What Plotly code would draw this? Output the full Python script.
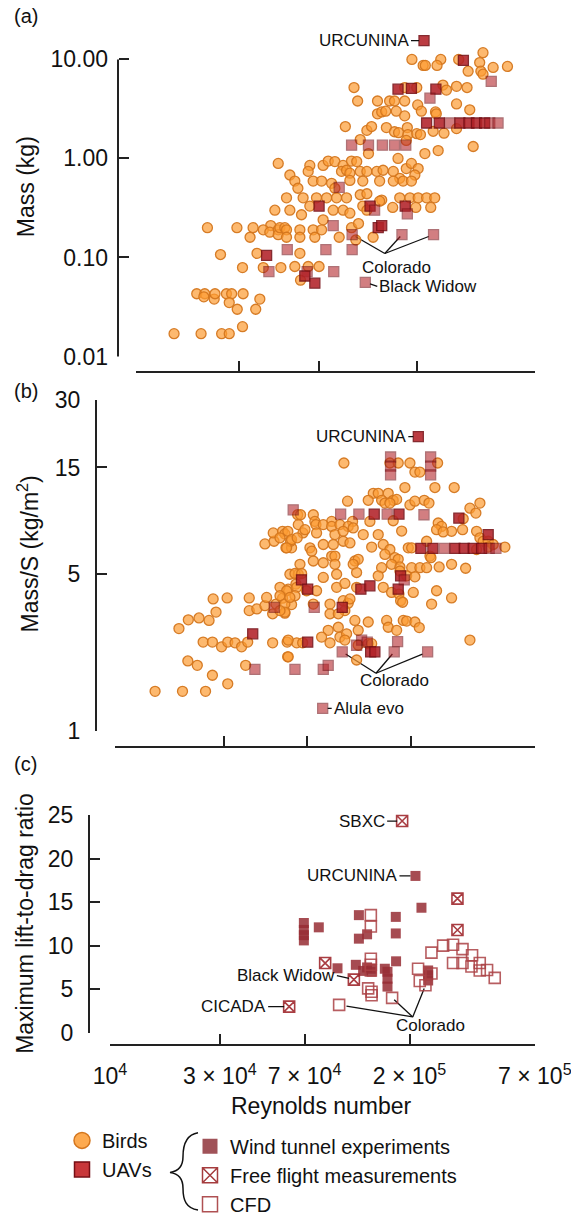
import math
import plotly.graph_objects as go

W, H = 571, 1224
FONT = "Liberation Sans, Arial, sans-serif"

# ---------------- data ----------------
# Panel (a): body mass vs Reynolds number (Re in thousands)
birds_a_re_k = [
    45.5, 43.9, 21.4, 29.3, 34.8, 42.0, 38.8, 41.6, 45.5, 33.7, 45.5, 24.6, 36.3, 31.1, 38.8, 46.8,
    19.1, 20.8, 20.6, 23.0, 23.2, 26.2, 27.7, 27.0, 31.3, 29.4, 37.4, 35.8, 31.1, 15.0, 20.0, 24.9,
    27.0, 46.3, 48.8,
    403, 189, 257, 311, 389, 213, 218, 247, 523, 449, 344, 394, 403,
    102, 175, 199, 263, 304, 340, 273,
    106, 131, 149, 157, 175, 201, 304,
    131, 137, 143, 160, 175, 209, 243, 245, 350,
    93, 117, 123, 144, 157, 164, 180, 181, 199, 207, 237, 266, 304,
    109, 178, 119, 217, 250, 363,
    51.5, 63.7, 62.6, 73.4, 77.5, 83.2, 90.8, 99.3, 105, 89.3, 94.2, 97.6, 109, 117, 130, 139, 155,
    163, 178, 188, 202, 195, 166,
    54.3, 56.1, 66.0, 72.2, 80.3, 83.2, 97.6, 112, 134, 155, 172, 188,
    49.7, 59.3, 68.4, 76.2, 84.7, 94.2, 109, 117, 137, 166, 185, 202, 221, 241,
    51.5, 58.3, 63.7, 73.4, 81.7, 90.8, 97.6, 112, 117, 134, 154, 197, 231,
    49.7, 57.3, 66.0, 72.2, 49.7, 57.3, 67.2, 87.1, 99.3, 107, 125, 104,
    54.3, 57.3, 62.6, 70.3, 57.7,
]
birds_a_mass = [
    0.89, 0.30, 0.20, 0.20, 0.20, 0.21, 0.19, 0.18, 0.19, 0.16, 0.17, 0.107, 0.11, 0.079, 0.079, 0.079,
    0.043, 0.043, 0.040, 0.038, 0.043, 0.043, 0.043, 0.035, 0.043, 0.030, 0.038, 0.030, 0.020, 0.017, 0.017, 0.017,
    0.017, 0.20, 0.20,
    11.7, 10, 10, 10, 9.3, 8.7, 8.7, 8.7, 8.5, 8.3, 7.6, 7.6, 7.1,
    5.2, 5.2, 5.2, 5.5, 5.35, 5.2, 4.9,
    3.8, 3.8, 3.8, 3.8, 3.8, 3.47, 3.55,
    2.82, 2.95, 3.0, 3.0, 2.69, 3.0, 2.95, 2.82, 3.1,
    2.1, 1.92, 2.1, 2.05, 1.86, 1.82, 2.05, 1.74, 1.78, 1.74, 1.88, 1.8, 2.0,
    1.55, 1.52, 1.12, 1.12, 1.2, 1.32,
    0.68, 0.85, 0.74, 0.85, 0.94, 0.93, 0.85, 0.94, 0.93, 0.74, 0.76, 0.71, 0.74, 0.74, 0.74, 0.76, 0.74,
    1.0, 0.79, 0.89, 0.79, 0.68, 0.63,
    0.59, 0.50, 0.59, 0.59, 0.56, 0.50, 0.60, 0.59, 0.59, 0.59, 0.59, 0.59,
    0.40, 0.40, 0.40, 0.40, 0.40, 0.40, 0.43, 0.44, 0.38, 0.40, 0.40, 0.40, 0.40, 0.40,
    0.30, 0.27, 0.33, 0.24, 0.30, 0.30, 0.28, 0.33, 0.30, 0.37, 0.32, 0.32, 0.32,
    0.19, 0.19, 0.19, 0.19, 0.16, 0.16, 0.16, 0.16, 0.20, 0.22, 0.16, 0.15,
    0.081, 0.11, 0.081, 0.081, 0.059,
]
uav_a_re_k = [
    215, 327, 440, 163, 188, 244, 229,
    221, 253, 283, 315, 347, 376, 410, 433, 473,
    99.4, 119, 138, 157, 177,
    87.1, 70.3, 121, 127, 176, 180, 81.7, 132, 137,
    100, 170, 238,
    50.1, 75.6, 100, 82.2, 61.9, 60.4, 67.2, 115,
    40.2, 41.2,
]
uav_a_mass = [
    15.5, 9.8, 6.0, 5.0, 5.1, 5.0, 4.07,
    2.28, 2.28, 2.28, 2.28, 2.28, 2.28, 2.28, 2.28, 2.28,
    1.36, 1.36, 1.36, 1.36, 1.36,
    0.51, 0.33, 0.33, 0.30, 0.33, 0.275, 0.21, 0.20, 0.21,
    0.17, 0.17, 0.17,
    0.12, 0.12, 0.12, 0.072, 0.072, 0.065, 0.055, 0.056,
    0.105, 0.072,
]
uav_a_dense = [
    1, 1, 0, 1, 1, 1, 0,
    1, 1, 0, 1, 1, 1, 1, 0, 0,
    0, 0, 0, 0, 0,
    0, 1, 1, 0, 1, 0, 0, 1, 1,
    0, 0, 0,
    0, 0, 0, 0, 0, 1, 1, 0,
    1, 0,
]

# Panel (b): wing loading vs Reynolds number
birds_b_re_k = [
    15.0, 19.8, 25.0, 31.3, 26.8, 20.9, 23.0, 37.5, 57.4, 24.4, 26.8, 29.4, 31.3, 33.7, 36.0, 38.3,
    49.3, 57.1, 62.9, 19.1, 21.0, 23.4, 25.9, 27.8, 27.0, 31.1, 38.9, 38.9, 42.0, 45.6, 46.4, 49.3,
    51.0, 54.5, 55.8, 57.7, 59.7, 58.7, 63.9, 62.4, 45.6, 50.0, 49.6, 54.5, 55.8, 56.4, 59.7, 59.1,
    63.9, 63.5,
    101.4, 161.5, 175.7, 197.8, 261.7, 208.0, 218.8, 188.0, 254.7, 309.6, 136.5, 143.5, 158.8,
    129.7, 148.5, 167.0, 172.9, 105.2, 153.6, 161.5, 197.8, 208.0, 228.6, 239.8, 401.6, 363.0,
    385.5, 339.1, 167.0, 131.9, 65.4, 74.4, 75.6, 89.6, 110.7, 57.5, 67.0, 68.4, 76.4, 82.3, 89.6,
    97.4, 105.9, 111.4, 76.9, 92.6, 100.7, 123.3, 181.9, 263.3, 272.5, 259.0, 301.5, 276.9, 337.0,
    388.3, 401.6, 415.2, 436.7, 459.3, 517.0, 388.3, 436.7, 53.1, 59.7, 63.2, 56.8, 71.9, 73.2,
    82.3, 91.1, 100.7, 107.8, 89.6, 92.6, 74.4, 82.3, 92.6, 134.3, 143.5, 151.0, 161.5, 153.6,
    169.9, 175.7, 194.5, 201.3, 234.2, 242.3, 244.6, 113.3, 117.2, 111.4, 148.5, 164.3, 178.8,
    201.3, 218.8, 234.2, 265.9, 301.5, 347.5, 65.0, 61.8, 66.1, 82.3, 94.2, 115.3, 143.5, 178.8,
    191.4, 208.0, 53.1, 56.8, 62.9, 69.5, 76.9, 94.2, 102.4, 115.3, 151.0, 164.3, 204.6, 259.0,
    301.5, 53.1, 61.8, 55.8, 58.7, 55.8, 74.4, 88.1, 100.7, 105.9, 107.8, 102.4, 88.1, 95.8,
    113.3, 117.2, 129.7, 156.3, 158.8, 172.9, 184.9, 191.4, 208.0, 217.4, 246.3, 177.0, 180.0,
    183.7, 95.8, 86.5, 80.9, 88.1, 97.4, 104.2, 102.4, 117.2, 129.7, 134.3, 57.7, 66.8, 57.7,
    115.3, 363.0, 53.1,
]
birds_b_ws = [
    1.50, 1.50, 1.50, 1.62, 1.77, 2.05, 1.96, 1.96, 2.14, 2.49, 2.49, 2.37, 2.49, 2.47, 2.37, 2.49,
    2.47, 2.49, 2.47, 2.86, 3.13, 3.19, 3.11, 3.39, 3.88, 3.92, 3.92, 3.44, 3.50, 3.62, 3.94, 3.33,
    3.68, 3.91, 3.35, 4.29, 3.66, 5.00, 5.00, 4.52, 6.83, 7.02, 7.65, 7.78, 7.57, 6.56, 6.56, 7.02,
    8.33, 9.22,
    15.7, 15.7, 15.7, 15.7, 15.7, 14.3, 14.3, 12.2, 12.2, 12.2, 11.5, 11.5, 11.5,
    10.7, 10.7, 10.7, 10.8, 10.6, 10.4, 10.4, 10.2, 10.6, 10.7, 10.4, 10.4, 9.87,
    9.38, 8.85, 8.67, 8.61, 9.22, 9.22, 8.61, 8.61, 8.61, 7.78, 7.65, 7.91, 8.33, 8.33, 8.18,
    8.33, 8.18, 8.05, 7.65, 7.52, 7.78, 7.52, 7.80, 8.47, 8.18, 7.91, 7.78, 7.73, 7.91,
    7.78, 7.27, 7.02, 7.02, 6.79, 6.61, 6.45, 6.61, 7.27, 7.14, 7.27, 6.56, 6.56, 6.34,
    6.79, 6.79, 7.02, 6.90, 6.03, 6.03, 5.73, 5.63, 5.54, 6.61, 7.52, 6.79, 6.45, 6.13,
    5.93, 5.83, 6.56, 6.56, 7.02, 6.03, 5.93, 5.73, 5.83, 5.54, 5.35, 5.54, 5.39,
    5.35, 5.35, 5.35, 5.39, 5.54, 5.32, 5.54, 5.04, 5.04, 4.84, 5.00, 5.09, 4.92, 5.17,
    4.92, 4.87, 4.37, 4.22, 4.37, 4.22, 4.22, 4.37, 4.55, 4.37, 4.37, 4.15, 4.15, 4.22,
    3.92, 4.01, 4.01, 3.68, 3.94, 3.39, 3.68, 3.68, 3.81, 3.71, 3.88, 3.44, 3.33, 3.33,
    3.11, 2.81, 3.06, 3.11, 2.90, 2.81, 3.11, 3.09, 3.06, 2.89, 3.68, 4.08, 3.81,
    3.75, 2.90, 2.81, 2.62, 2.47, 2.62, 2.71, 2.54, 2.41, 2.45, 2.45, 2.54, 2.47, 2.14,
    2.07, 2.54, 3.44,
]
uav_b_re_k = [
    215.3,
    162.6, 162.6, 162.6, 243.9, 243.9, 243.9,
    60.7, 98.1, 118.0, 137.8, 157.2, 177.0, 228, 324.5, 436.7,
    221, 249.5, 279.9, 311.9, 342.7, 375.3, 408.5, 441.3, 472.1,
    66, 70.3, 120.4, 131.9, 175.7, 180.0, 186.7,
    75.1, 99.7, 70.3, 121.3, 128.4, 174.6, 115.3, 132.9, 138.7,
    99.7, 168.7, 236.6,
    61.8, 82.3, 86.5, 81.8,
    40.3, 50.1, 41.2,
]
uav_b_ws = [
    20.6,
    16.7, 15.2, 13.9, 16.7, 15.2, 13.9,
    9.70, 9.28, 9.28, 9.28, 9.28, 9.28, 9.22, 8.91, 7.52,
    6.52, 6.52, 6.52, 6.52, 6.52, 6.52, 6.52, 6.52, 6.52,
    4.72, 4.29, 4.29, 4.44, 4.29, 4.92, 4.72,
    3.56, 3.56, 2.49, 2.54, 2.49, 2.50, 2.41, 2.25, 2.25,
    2.25, 2.25, 2.25,
    1.88, 1.88, 1.96, 1.26,
    2.71, 3.56, 1.88,
]
uav_b_dense = [
    1,
    0, 0, 0, 0, 0, 0,
    0, 0, 0, 1, 0, 1, 0, 1, 1,
    1, 1, 0, 1, 1, 1, 1, 0, 0,
    1, 1, 1, 1, 1, 1, 0,
    0, 1, 1, 0, 0, 0, 0, 1, 1,
    0, 0, 0,
    0, 0, 0, 0,
    1, 0, 0,
]

# Panel (c): maximum lift-to-drag ratio of UAVs by method
wt_re_k = [69.5, 69.5, 69.5, 69.5, 80.7, 120.5, 120.5, 130.8, 174.3, 174.3, 225.3, 212.2, 174.8,
           97.3, 116.9, 125.7, 130.8, 136.8, 136.8, 156.2, 160.4, 160.4, 160.4, 240.9, 240.9, 240.9]
wt_ld = [12.6, 11.8, 11.2, 10.6, 12.1, 13.5, 10.8, 11.3, 13.3, 11.4, 14.35, 18.0, 8.2,
         7.4, 7.8, 7.1, 7.5, 7.35, 7.0, 7.35, 7.0, 6.2, 5.3, 7.15, 6.6, 6.0]
ff_re_k = [185.7, 322.9, 322.9, 86.0, 114.6, 60.0]
ff_ld = [24.3, 15.4, 11.8, 8.0, 6.1, 3.0]
cfd_re_k = [135.8, 135.8, 135.8, 135.8, 135.8, 132.2, 136.8, 136.8, 98.9, 168.0, 234.5, 217.8,
            221.5, 249, 279.8, 309, 339.6, 373.7, 403.6, 434.2, 468.8, 309, 339.6, 371.5, 403.6, 249]
cfd_ld = [13.5, 12.2, 8.5, 7.8, 7.15, 5.1, 4.7, 4.3, 3.2, 4.0, 5.45, 7.35,
          5.95, 9.2, 10.0, 10.1, 9.6, 8.9, 8.0, 7.2, 6.3, 8.0, 8.0, 7.6, 7.15, 6.8]

re_ticks = [1e4, 3e4, 7e4, 2e5, 7e5]
re_tick_text = ["10<sup>4</sup>", "3 × 10<sup>4</sup>", "7 × 10<sup>4</sup>",
                "2 × 10<sup>5</sup>", "7 × 10<sup>5</sup>"]
mass_ticks = [0.01, 0.1, 1, 10]
mass_tick_text = ["0.01", "0.10", "1.00", "10.00"]
ws_ticks = [1, 5, 15, 30]
ld_ticks = [0, 5, 10, 15, 20, 25]

# ---------------- styling ----------------
BIRD_FILL = "rgba(252,155,50,0.7)"
BIRD_LINE = "rgba(212,118,30,0.95)"
UAV_FILL = "rgb(178,34,40)"
UAV_LINE = "rgb(118,14,20)"
WT_COLOR = "rgba(150,45,52,0.85)"
FF_COLOR = "rgba(160,40,45,0.9)"
CFD_COLOR = "rgba(170,65,68,0.85)"
AX_COLOR = "#222"
INK = "#111"


def k(vals):
    return [v * 1e3 for v in vals]


def px_x(p):
    return p / W


def px_y(p):
    return 1 - p / H


fig = go.Figure()


def connector(xa, ya, apex, targets, logy=True):
    """Leader lines from a common label apex to several points, stopping short of each marker."""
    xs, ys = [], []
    for re, val in targets:
        lx0, lx1 = math.log10(apex[0]), math.log10(re)
        if logy:
            ly0, ly1 = math.log10(apex[1]), math.log10(val)
        else:
            ly0, ly1 = apex[1], val
        f = 0.9
        ex, ey = lx0 + f * (lx1 - lx0), ly0 + f * (ly1 - ly0)
        xs += [apex[0], 10 ** ex, None]
        ys += [apex[1], 10 ** ey if logy else ey, None]
    fig.add_trace(go.Scatter(x=xs, y=ys, mode="lines", xaxis=xa, yaxis=ya,
                             line=dict(color=INK, width=1.3), showlegend=False,
                             hoverinfo="skip", cliponaxis=False))


def add_birds(re_k, vals, xa, ya):
    fig.add_trace(go.Scatter(
        x=k(re_k), y=vals, mode="markers", xaxis=xa, yaxis=ya,
        marker=dict(symbol="circle", size=10, color=BIRD_FILL,
                    line=dict(color=BIRD_LINE, width=1.3)),
        showlegend=False, cliponaxis=False, hoverinfo="skip"))


def add_uavs(re_k, vals, dense, xa, ya):
    fig.add_trace(go.Scatter(
        x=k(re_k), y=vals, mode="markers", xaxis=xa, yaxis=ya,
        marker=dict(symbol="square", size=10, color=UAV_FILL,
                    opacity=[0.88 if d else 0.58 for d in dense],
                    line=dict(color=UAV_LINE, width=1.3)),
        showlegend=False, cliponaxis=False, hoverinfo="skip"))


# leader lines for the "Colorado" labels
connector("x", "y", (141.6e3, 0.1096), [(100e3, 0.17), (170e3, 0.17), (238e3, 0.17)])
connector("x2", "y2", (140.3e3, 1.807), [(99.7e3, 2.25), (168.7e3, 2.25), (236.6e3, 2.25)])
connector("x3", "y3", (206.5e3, 1.82), [(98.9e3, 3.2), (168.0e3, 4.0), (234.5e3, 5.45)], logy=False)

add_birds(birds_a_re_k, birds_a_mass, "x", "y")
add_uavs(uav_a_re_k, uav_a_mass, uav_a_dense, "x", "y")
add_birds(birds_b_re_k, birds_b_ws, "x2", "y2")
add_uavs(uav_b_re_k, uav_b_ws, uav_b_dense, "x2", "y2")

fig.add_trace(go.Scatter(
    x=k(wt_re_k), y=wt_ld, mode="markers", xaxis="x3", yaxis="y3",
    marker=dict(symbol="square", size=10, color=WT_COLOR, line=dict(width=0)),
    showlegend=False, cliponaxis=False, hoverinfo="skip"))
fig.add_trace(go.Scatter(
    x=k(cfd_re_k), y=cfd_ld, mode="markers", xaxis="x3", yaxis="y3",
    marker=dict(symbol="square-open", size=11, color=CFD_COLOR, line=dict(width=1.6)),
    showlegend=False, cliponaxis=False, hoverinfo="skip"))
fig.add_trace(go.Scatter(
    x=k(ff_re_k), y=ff_ld, mode="markers", xaxis="x3", yaxis="y3",
    marker=dict(symbol="square-x-open", size=11, color=FF_COLOR, line=dict(width=1.6)),
    showlegend=False, cliponaxis=False, hoverinfo="skip"))

# legend entries
leg_specs = [
    ("Birds", "legend", dict(symbol="circle", size=16, color="rgb(253,170,80)",
                             line=dict(color="rgb(212,118,30)", width=1.5))),
    ("UAVs", "legend", dict(symbol="square", size=15, color="rgb(200,55,58)",
                            line=dict(color=UAV_LINE, width=1.5))),
    ("Wind tunnel experiments", "legend2", dict(symbol="square", size=15, color="rgb(160,82,88)",
                                               line=dict(width=0))),
    ("Free flight measurements", "legend2", dict(symbol="square-x-open", size=15,
                                                color="rgb(165,60,62)", line=dict(width=1.5))),
    ("CFD", "legend2", dict(symbol="square-open", size=15, color="rgb(175,80,82)",
                            line=dict(width=1.5))),
]
for name, leg, mk in leg_specs:
    fig.add_trace(go.Scatter(x=[None], y=[None], mode="markers", name=name, legend=leg,
                             marker=mk, xaxis="x3", yaxis="y3", hoverinfo="skip"))

# ---------------- axes ----------------
panels = {
    # name: (x0, x1, ytop, ybottom, yaxis_x, xaxis_y)
    "1": (136, 535, 60, 360, 118, 376),
    "2": (115, 535, 404, 738, 96, 754),
    "3": (110, 535, 823, 1043, 89, 1055),
}
common = dict(showgrid=False, zeroline=False, showline=True, linecolor=AX_COLOR, linewidth=2,
              ticks="inside", ticklen=10, tickwidth=2, tickcolor=AX_COLOR, automargin=False,
              tickfont=dict(family=FONT, size=23, color=INK), anchor="free")

xr = [4, math.log10(7e5) + 0.0008]
for n, (x0, x1, yt, yb, yax, xay) in panels.items():
    xname = "xaxis" if n == "1" else "xaxis" + n
    yname = "yaxis" if n == "1" else "yaxis" + n
    fig.layout[xname] = dict(common, domain=[px_x(x0), px_x(x1)], position=px_y(xay),
                             type="log", range=xr, tickvals=re_ticks, ticktext=re_tick_text,
                             showticklabels=(n == "3"), ticklabelstandoff=11,
                             ticklabeloverflow="allow")
    fig.layout[yname] = dict(common, domain=[px_y(yb), px_y(yt)], position=px_x(yax),
                             ticklabelstandoff=10)

# panel (a): the mass scale runs a little past 10 kg so the heaviest UAV stays on the axis,
# while the drawn spine stops at the 10.00 tick
A_TOP, A_BOT, A_SPINE_X = 35, 360, 118
fig.layout.yaxis.update(type="log", domain=[px_y(A_BOT), px_y(A_TOP)],
                        range=[-2, 1 + (60 - A_TOP) / 100.0], showline=False,
                        tickvals=mass_ticks, ticktext=mass_tick_text)
fig.layout.yaxis2.update(type="log", range=[0, math.log10(30)], tickvals=ws_ticks,
                         ticktext=[str(v) for v in ws_ticks])
fig.layout.yaxis3.update(type="linear", range=[0, 25], tickvals=ld_ticks)

# ---------------- annotations ----------------
ann = []
LBL = dict(family=FONT, size=17, color=INK)


def lg(v):
    return math.log10(v)


def tag(xa, ya, re, val, text, ax, ay, side, logy=True):
    ann.append(dict(xref=xa, yref=ya, x=lg(re), y=lg(val) if logy else val, text=text,
                    showarrow=True, arrowhead=0, arrowwidth=1.3, arrowcolor=INK,
                    ax=ax, ay=ay, xanchor=side, yanchor="middle", standoff=5, font=LBL))


def label(xa, ya, re, val, text, dx, dy, logy=True):
    ann.append(dict(xref=xa, yref=ya, x=lg(re), y=lg(val) if logy else val, text=text,
                    showarrow=False, xshift=dx, yshift=dy, font=LBL))


# (a)
tag("x", "y", 215e3, 15.5, "URCUNINA", -13, 0, "right")
label("x", "y", 141.6e3, 0.1096, "Colorado", 12, -14)
tag("x", "y", 115e3, 0.056, "Black Widow", 12, 4, "left")
# (b)
tag("x2", "y2", 215.3e3, 20.6, "URCUNINA", -10, 0, "right")
label("x2", "y2", 140.3e3, 1.807, "Colorado", 19, -7)
tag("x2", "y2", 81.8e3, 1.26, "Alula evo", 9, 0, "left")
# (c)
tag("x3", "y3", 185.7e3, 24.3, "SBXC", -15, 0, "right", logy=False)
tag("x3", "y3", 212.2e3, 18.0, "URCUNINA", -16, 0, "right", logy=False)
tag("x3", "y3", 114.6e3, 6.1, "Black Widow", -17, -4, "right", logy=False)
tag("x3", "y3", 60.0e3, 3.0, "CICADA", -21, 0, "right", logy=False)
label("x3", "y3", 206.5e3, 1.82, "Colorado", 18, -9, logy=False)

TITLE = dict(family=FONT, size=23, color=INK)
for text, x, y in [("Mass (kg)", 26, 189), ("Mass/S (kg/m<sup>2</sup>)", 28, 560),
                   ("Maximum lift-to-drag ratio", 25, 933)]:
    ann.append(dict(xref="paper", yref="paper", x=px_x(x), y=px_y(y), text=text,
                    textangle=-90, showarrow=False, font=TITLE,
                    xanchor="center", yanchor="middle"))
ann.append(dict(xref="paper", yref="paper", x=px_x(321), y=px_y(1117), text="Reynolds number",
                showarrow=False, font=TITLE, xanchor="center", yanchor="middle"))
for text, y in [("(a)", 16), ("(b)", 395), ("(c)", 772)]:
    ann.append(dict(xref="paper", yref="paper", x=px_x(12), y=px_y(y), text=text,
                    showarrow=False, font=dict(family=FONT, size=20, color=INK),
                    xanchor="left", yanchor="middle"))

# brace joining the UAV entry to the three measurement methods
brace = [(198, 1144), (186, 1146), (183, 1156), (183, 1168), (183, 1178), (178, 1183), (170, 1184),
         (178, 1185), (183, 1190), (183, 1200), (183, 1212), (186, 1220), (198, 1222)]
bp = [(px_x(a), px_y(b)) for a, b in brace]
path = "M {0},{1}".format(*bp[0])
for i in range(1, len(bp), 3):
    path += " C {0},{1} {2},{3} {4},{5}".format(*bp[i], *bp[i + 1], *bp[i + 2])

shapes = [
    dict(type="path", xref="paper", yref="paper", path=path, line=dict(color=INK, width=1.5)),
    # spine of the mass axis, from the 0.01 tick up to the 10.00 tick
    dict(type="line", xref="paper", yref="paper", x0=px_x(A_SPINE_X), x1=px_x(A_SPINE_X),
         y0=px_y(A_BOT), y1=px_y(60), line=dict(color=AX_COLOR, width=2)),
]

fig.update_layout(
    template="none",
    width=W, height=H, autosize=False,
    margin=dict(l=0, r=0, t=0, b=0, pad=0),
    paper_bgcolor="white", plot_bgcolor="white",
    font=dict(family=FONT, color=INK),
    annotations=ann,
    shapes=shapes,
    legend=dict(x=px_x(62), y=px_y(1132), xanchor="left", yanchor="top",
                bgcolor="rgba(0,0,0,0)", font=dict(family=FONT, size=20, color=INK),
                itemclick=False, tracegroupgap=0, borderwidth=0),
    legend2=dict(x=px_x(190), y=px_y(1138), xanchor="left", yanchor="top",
                 bgcolor="rgba(0,0,0,0)", font=dict(family=FONT, size=20, color=INK),
                 itemclick=False, tracegroupgap=0, borderwidth=0),
    hovermode=False,
)

fig.write_html("out.html")
